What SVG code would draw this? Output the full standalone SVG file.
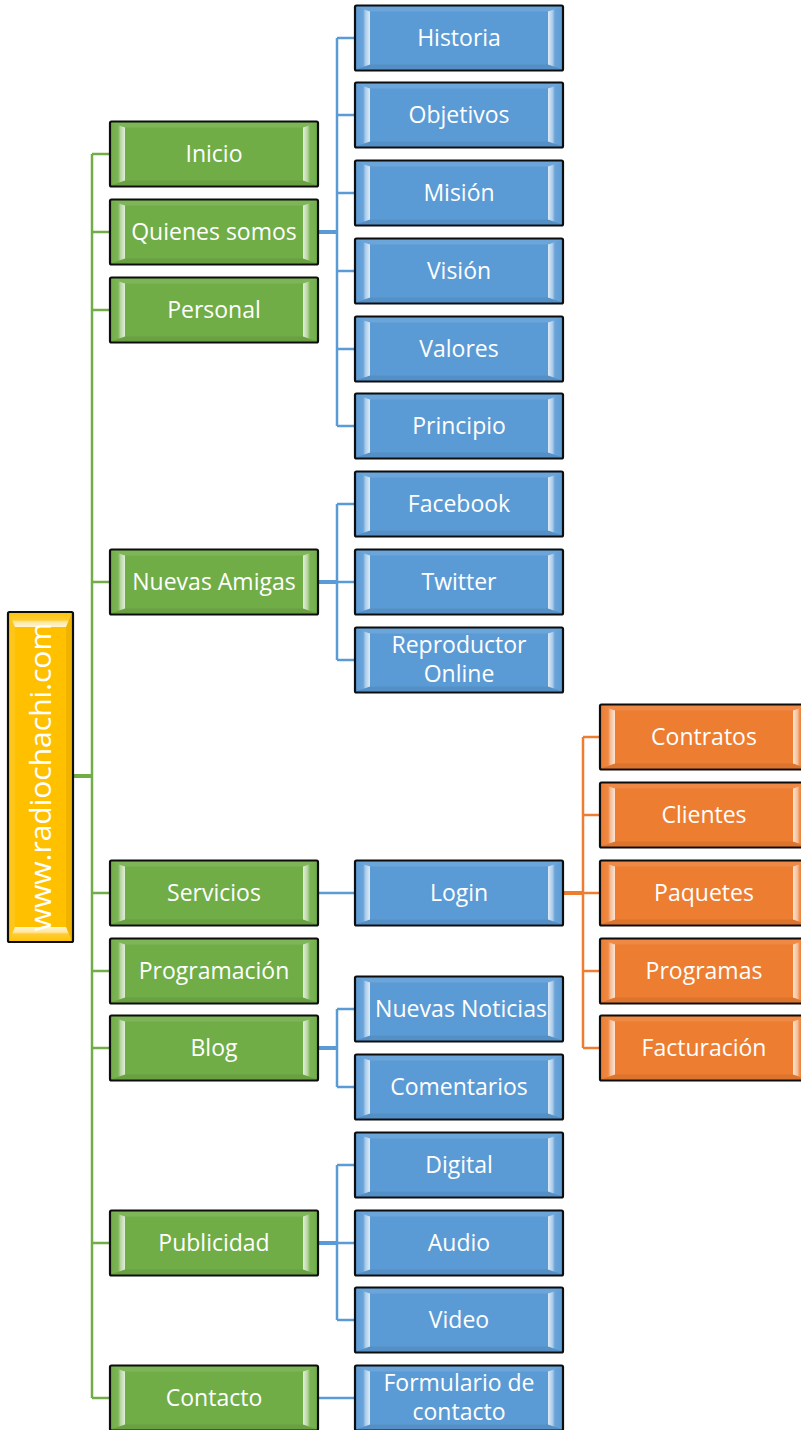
<svg xmlns="http://www.w3.org/2000/svg" xmlns:xlink="http://www.w3.org/1999/xlink" width="801" height="1430" viewBox="0 0 801 1430">
<style>
.box{stroke:#0d0d0d;stroke-width:2.2}
.gr{fill:#70AD47}.bl{fill:#5B9BD5}.or{fill:#ED7D31}.ye{fill:#FFC000}
.t{fill:#fff;font-family:"Open Sans","Noto Sans","Liberation Sans",sans-serif;font-size:23px;text-anchor:middle}
.c{fill:none;stroke-width:2.5}
.cg{stroke:#70AD47}.cb{stroke:#5B9BD5}.co{stroke:#ED7D31}
.thick{stroke-width:4}
</style>
<defs>
<linearGradient id="gL" x1="0" y1="0" x2="1" y2="0">
<stop offset="0" stop-color="#fff" stop-opacity="0.02"/>
<stop offset="0.5" stop-color="#fff" stop-opacity="0.08"/>
<stop offset="0.68" stop-color="#fff" stop-opacity="0.5"/>
<stop offset="1" stop-color="#fff" stop-opacity="0.8"/>
</linearGradient>
<linearGradient id="gR" x1="1" y1="0" x2="0" y2="0">
<stop offset="0" stop-color="#fff" stop-opacity="0.02"/>
<stop offset="0.5" stop-color="#fff" stop-opacity="0.08"/>
<stop offset="0.68" stop-color="#fff" stop-opacity="0.5"/>
<stop offset="1" stop-color="#fff" stop-opacity="0.8"/>
</linearGradient>
<linearGradient id="gT" x1="0" y1="0" x2="0" y2="1">
<stop offset="0" stop-color="#fff" stop-opacity="0.05"/>
<stop offset="0.5" stop-color="#fff" stop-opacity="0.2"/>
<stop offset="0.62" stop-color="#fff" stop-opacity="0.6"/>
<stop offset="1" stop-color="#fff" stop-opacity="0.85"/>
</linearGradient>
<linearGradient id="gB" x1="0" y1="1" x2="0" y2="0">
<stop offset="0" stop-color="#fff" stop-opacity="0.05"/>
<stop offset="0.5" stop-color="#fff" stop-opacity="0.2"/>
<stop offset="0.62" stop-color="#fff" stop-opacity="0.6"/>
<stop offset="1" stop-color="#fff" stop-opacity="0.85"/>
</linearGradient>
<g id="bev">
<path d="M1.2,1.2 L207,1.2 L193,6 L15,6 Z" fill="#fff" fill-opacity="0.1"/>
<path d="M1.2,63.8 L207,63.8 L193,59 L15,59 Z" fill="#000" fill-opacity="0.07"/>
<path d="M1.2,1.2 L15,6 L15,59 L1.2,63.8 Z" fill="url(#gL)"/>
<path d="M206.8,1.2 L193,6 L193,59 L206.8,63.8 Z" fill="url(#gR)"/>
</g>
</defs>

<g id="connectors">
<path class="c cg" d="M92,154 V1398 M92,154 H110 M92,232 H110 M92,310 H110 M92,582 H110 M92,893 H110 M92,971 H110 M92,1048 H110 M92,1243 H110 M92,1398 H110"/>
<path class="c cg thick" d="M73,776 H92"/>
<path class="c cb thick" d="M318,232 H337 M318,582 H337 M318,1048 H337 M318,1243 H337"/>
<path class="c cb" d="M337,38 V426 M337,38 H355 M337,115 H355 M337,193 H355 M337,271 H355 M337,349 H355 M337,426 H355"/>
<path class="c cb" d="M337,504 V660 M337,504 H355 M337,582 H355 M337,660 H355"/>
<path class="c cb" d="M318,893 H355 M318,1398 H355"/>
<path class="c cb" d="M337,1009 V1087 M337,1009 H355 M337,1087 H355"/>
<path class="c cb" d="M337,1165 V1320 M337,1165 H355 M337,1243 H355 M337,1320 H355"/>
<path class="c co thick" d="M563,893 H583"/>
<path class="c co" d="M583,737 V1048 M583,737 H600 M583,815 H600 M583,893 H600 M583,971 H600 M583,1048 H600"/>
</g>

<g id="root">
<rect class="box ye" x="8" y="612" width="65" height="330" rx="1.5"/>
<path d="M9.2,613.2 L71.8,613.2 L66,627 L15,627 Z" fill="url(#gT)"/>
<path d="M9.2,940.8 L71.8,940.8 L66,927 L15,927 Z" fill="url(#gB)"/>
<path d="M9.2,613.2 L15,627 L15,927 L9.2,940.8 Z" fill="#fff" fill-opacity="0.1"/>
<path d="M71.8,613.2 L66,627 L66,927 L71.8,940.8 Z" fill="#000" fill-opacity="0.06"/>
<text class="t" style="font-size:30px" transform="translate(51,777) rotate(-90)">www.radiochachi.com</text>
</g>

<g id="n-inicio"><rect class="box gr" x="110" y="121.5" width="208" height="65" rx="1.5"/><use xlink:href="#bev" x="110" y="121.5"/><text class="t" x="214" y="162">Inicio</text></g>
<g id="n-quienes"><rect class="box gr" x="110" y="199.5" width="208" height="65" rx="1.5"/><use xlink:href="#bev" x="110" y="199.5"/><text class="t" x="214" y="240">Quienes somos</text></g>
<g id="n-personal"><rect class="box gr" x="110" y="277.5" width="208" height="65" rx="1.5"/><use xlink:href="#bev" x="110" y="277.5"/><text class="t" x="214" y="318">Personal</text></g>
<g id="n-nuevas-amigas"><rect class="box gr" x="110" y="549.5" width="208" height="65" rx="1.5"/><use xlink:href="#bev" x="110" y="549.5"/><text class="t" x="214" y="590">Nuevas Amigas</text></g>
<g id="n-servicios"><rect class="box gr" x="110" y="860.5" width="208" height="65" rx="1.5"/><use xlink:href="#bev" x="110" y="860.5"/><text class="t" x="214" y="901">Servicios</text></g>
<g id="n-programacion"><rect class="box gr" x="110" y="938.5" width="208" height="65" rx="1.5"/><use xlink:href="#bev" x="110" y="938.5"/><text class="t" x="214" y="979">Programación</text></g>
<g id="n-blog"><rect class="box gr" x="110" y="1015.5" width="208" height="65" rx="1.5"/><use xlink:href="#bev" x="110" y="1015.5"/><text class="t" x="214" y="1056">Blog</text></g>
<g id="n-publicidad"><rect class="box gr" x="110" y="1210.5" width="208" height="65" rx="1.5"/><use xlink:href="#bev" x="110" y="1210.5"/><text class="t" x="214" y="1251">Publicidad</text></g>
<g id="n-contacto"><rect class="box gr" x="110" y="1365.5" width="208" height="65" rx="1.5"/><use xlink:href="#bev" x="110" y="1365.5"/><text class="t" x="214" y="1406">Contacto</text></g>

<g id="n-historia"><rect class="box bl" x="355" y="5.5" width="208" height="65" rx="1.5"/><use xlink:href="#bev" x="355" y="5.5"/><text class="t" x="459" y="46">Historia</text></g>
<g id="n-objetivos"><rect class="box bl" x="355" y="82.5" width="208" height="65" rx="1.5"/><use xlink:href="#bev" x="355" y="82.5"/><text class="t" x="459" y="123">Objetivos</text></g>
<g id="n-mision"><rect class="box bl" x="355" y="160.5" width="208" height="65" rx="1.5"/><use xlink:href="#bev" x="355" y="160.5"/><text class="t" x="459" y="201">Misión</text></g>
<g id="n-vision"><rect class="box bl" x="355" y="238.5" width="208" height="65" rx="1.5"/><use xlink:href="#bev" x="355" y="238.5"/><text class="t" x="459" y="279">Visión</text></g>
<g id="n-valores"><rect class="box bl" x="355" y="316.5" width="208" height="65" rx="1.5"/><use xlink:href="#bev" x="355" y="316.5"/><text class="t" x="459" y="357">Valores</text></g>
<g id="n-principio"><rect class="box bl" x="355" y="393.5" width="208" height="65" rx="1.5"/><use xlink:href="#bev" x="355" y="393.5"/><text class="t" x="459" y="434">Principio</text></g>
<g id="n-facebook"><rect class="box bl" x="355" y="471.5" width="208" height="65" rx="1.5"/><use xlink:href="#bev" x="355" y="471.5"/><text class="t" x="459" y="512">Facebook</text></g>
<g id="n-twitter"><rect class="box bl" x="355" y="549.5" width="208" height="65" rx="1.5"/><use xlink:href="#bev" x="355" y="549.5"/><text class="t" x="459" y="590">Twitter</text></g>
<g id="n-reproductor"><rect class="box bl" x="355" y="627.5" width="208" height="65" rx="1.5"/><use xlink:href="#bev" x="355" y="627.5"/><text class="t" x="459" y="653">Reproductor</text><text class="t" x="459" y="682">Online</text></g>
<g id="n-login"><rect class="box bl" x="355" y="860.5" width="208" height="65" rx="1.5"/><use xlink:href="#bev" x="355" y="860.5"/><text class="t" x="459" y="901">Login</text></g>
<g id="n-nuevas-noticias"><rect class="box bl" x="355" y="976.5" width="208" height="65" rx="1.5"/><use xlink:href="#bev" x="355" y="976.5"/><text class="t" x="461" y="1017" textLength="172" lengthAdjust="spacingAndGlyphs">Nuevas Noticias</text></g>
<g id="n-comentarios"><rect class="box bl" x="355" y="1054.5" width="208" height="65" rx="1.5"/><use xlink:href="#bev" x="355" y="1054.5"/><text class="t" x="459" y="1095">Comentarios</text></g>
<g id="n-digital"><rect class="box bl" x="355" y="1132.5" width="208" height="65" rx="1.5"/><use xlink:href="#bev" x="355" y="1132.5"/><text class="t" x="459" y="1173">Digital</text></g>
<g id="n-audio"><rect class="box bl" x="355" y="1210.5" width="208" height="65" rx="1.5"/><use xlink:href="#bev" x="355" y="1210.5"/><text class="t" x="459" y="1251">Audio</text></g>
<g id="n-video"><rect class="box bl" x="355" y="1287.5" width="208" height="65" rx="1.5"/><use xlink:href="#bev" x="355" y="1287.5"/><text class="t" x="459" y="1328">Video</text></g>
<g id="n-formulario"><rect class="box bl" x="355" y="1365.5" width="208" height="65" rx="1.5"/><use xlink:href="#bev" x="355" y="1365.5"/><text class="t" x="459" y="1391">Formulario de</text><text class="t" x="459" y="1420">contacto</text></g>

<g id="n-contratos"><rect class="box or" x="600" y="704.5" width="208" height="65" rx="1.5"/><use xlink:href="#bev" x="600" y="704.5"/><text class="t" x="704" y="745">Contratos</text></g>
<g id="n-clientes"><rect class="box or" x="600" y="782.5" width="208" height="65" rx="1.5"/><use xlink:href="#bev" x="600" y="782.5"/><text class="t" x="704" y="823">Clientes</text></g>
<g id="n-paquetes"><rect class="box or" x="600" y="860.5" width="208" height="65" rx="1.5"/><use xlink:href="#bev" x="600" y="860.5"/><text class="t" x="704" y="901">Paquetes</text></g>
<g id="n-programas"><rect class="box or" x="600" y="938.5" width="208" height="65" rx="1.5"/><use xlink:href="#bev" x="600" y="938.5"/><text class="t" x="704" y="979">Programas</text></g>
<g id="n-facturacion"><rect class="box or" x="600" y="1015.5" width="208" height="65" rx="1.5"/><use xlink:href="#bev" x="600" y="1015.5"/><text class="t" x="704" y="1056">Facturación</text></g>
</svg>
